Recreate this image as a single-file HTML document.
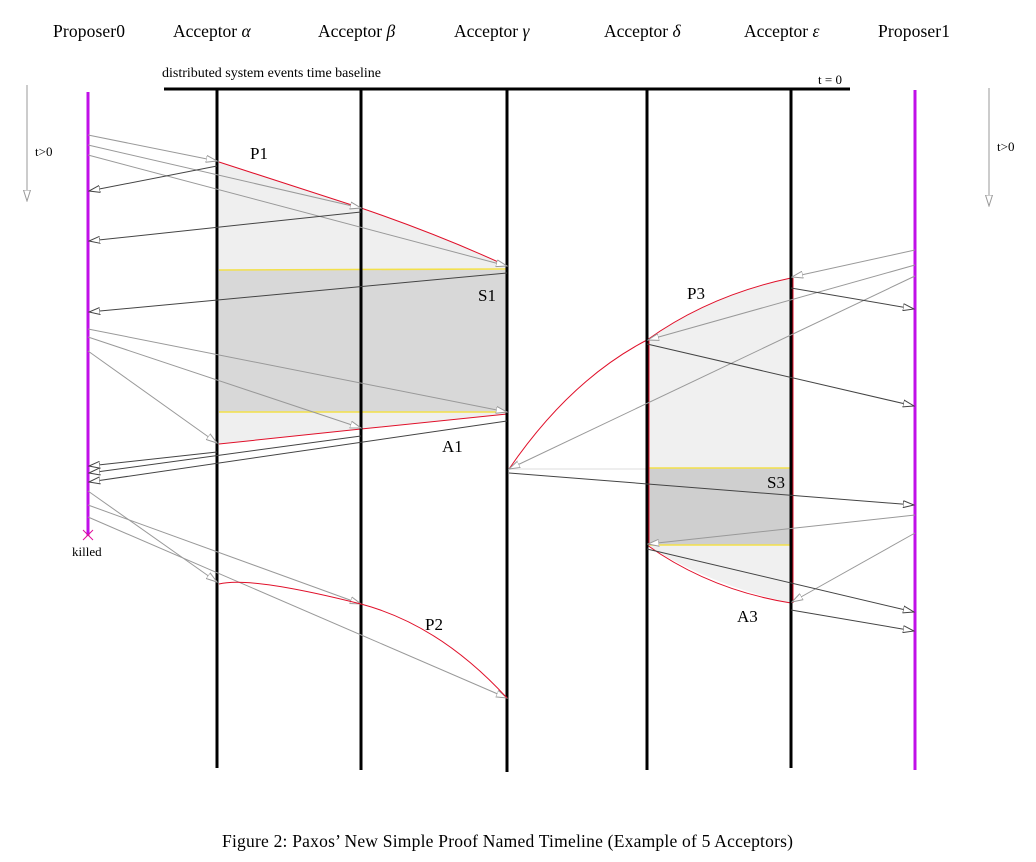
<!DOCTYPE html>
<html><head><meta charset="utf-8"><style>
html,body{margin:0;padding:0;background:#fff}
svg{display:block;font-family:"Liberation Serif",serif}
</style></head><body>
<svg width="1036" height="862" viewBox="0 0 1036 862" xmlns="http://www.w3.org/2000/svg">
<defs>
<marker id="ag" markerWidth="12" markerHeight="8" refX="11" refY="4" orient="auto" markerUnits="userSpaceOnUse"><path d="M0,0.5 L11,4 L0,7.5 Z" fill="#fff" stroke="#999" stroke-width="1"/></marker>
<marker id="ad" markerWidth="12" markerHeight="8" refX="11" refY="4" orient="auto" markerUnits="userSpaceOnUse"><path d="M0,0.5 L11,4 L0,7.5 Z" fill="#fff" stroke="#444" stroke-width="1"/></marker>
</defs>
<g font-size="17.5" fill="#000">
<text x="53" y="37" textLength="72">Proposer0</text>
<text x="173" y="37">Acceptor <tspan font-style="italic">α</tspan></text>
<text x="318" y="37">Acceptor <tspan font-style="italic">β</tspan></text>
<text x="454" y="37">Acceptor <tspan font-style="italic">γ</tspan></text>
<text x="604" y="37">Acceptor <tspan font-style="italic">δ</tspan></text>
<text x="744" y="37">Acceptor <tspan font-style="italic">ε</tspan></text>
<text x="878" y="37" textLength="72">Proposer1</text>
</g>
<text x="162" y="77" font-size="14" textLength="219">distributed system events time baseline</text>
<text x="818" y="84" font-size="13">t = 0</text>
<line x1="164" y1="89" x2="850" y2="89" stroke="#000" stroke-width="3"/>
<line x1="27" y1="85" x2="27" y2="201" stroke="#999" stroke-width="1" marker-end="url(#ag)"/>
<text x="35" y="156" font-size="13">t&gt;0</text>
<line x1="989" y1="88" x2="989" y2="206" stroke="#999" stroke-width="1" marker-end="url(#ag)"/>
<text x="997" y="151" font-size="13">t&gt;0</text>
<path d="M219,162 L361,208 Q440,235 507,266 L507,270 L219,270 Z" fill="#efefef"/>
<rect x="219" y="270" width="288" height="142" fill="#d8d8d8"/>
<path d="M219,412 L507,412 L507,414 L361,429 L219,444 Z" fill="#efefef"/>
<line x1="219" y1="270" x2="507" y2="269" stroke="#f3e04a" stroke-width="1.5"/>
<line x1="219" y1="412" x2="507" y2="412" stroke="#f3e04a" stroke-width="1.5"/>
<path d="M219,162 L361,208 Q440,235 507,266" fill="none" stroke="#e0102a" stroke-width="1"/>
<path d="M219,444 L361,429 L507,414" fill="none" stroke="#e0102a" stroke-width="1"/>
<path d="M647,340 Q710,295 791,278 L791,603 Q710,585 647,545 Z" fill="#f0f0f0"/>
<rect x="649" y="468" width="142" height="77" fill="#cfcfcf"/>
<line x1="649" y1="468" x2="791" y2="468" stroke="#f3e04a" stroke-width="1.5"/>
<line x1="649" y1="545" x2="791" y2="545" stroke="#f3e04a" stroke-width="1.5"/>
<line x1="509" y1="469" x2="647" y2="469" stroke="#eee" stroke-width="2"/>
<path d="M509,469 Q570,380 647,340 Q710,295 791,278" fill="none" stroke="#e0102a" stroke-width="1"/>
<path d="M647,545 Q710,590 791,603" fill="none" stroke="#e0102a" stroke-width="1"/>
<line x1="649" y1="340" x2="649" y2="545" stroke="#e0102a" stroke-width="1"/>
<line x1="793" y1="278" x2="793" y2="603" stroke="#e0102a" stroke-width="1"/>
<line x1="88" y1="92" x2="88" y2="536" stroke="#c010e8" stroke-width="3"/>
<line x1="915" y1="90" x2="915" y2="770" stroke="#c010e8" stroke-width="3"/>
<line x1="217" y1="90" x2="217" y2="768" stroke="#000" stroke-width="3"/>
<line x1="361" y1="90" x2="361" y2="770" stroke="#000" stroke-width="3"/>
<line x1="507" y1="90" x2="507" y2="772" stroke="#000" stroke-width="3"/>
<line x1="647" y1="90" x2="647" y2="770" stroke="#000" stroke-width="3"/>
<line x1="791" y1="90" x2="791" y2="768" stroke="#000" stroke-width="3"/>
<path d="M83,530 L93,540 M93,530 L83,540" fill="none" stroke="#e0109a" stroke-width="1"/>
<text x="72" y="556" font-size="13">killed</text>
<g stroke-width="1" fill="none">
<line x1="88" y1="135" x2="217" y2="161" stroke="#999" marker-end="url(#ag)"/>
<line x1="88" y1="145" x2="361" y2="208" stroke="#999" marker-end="url(#ag)"/>
<line x1="88" y1="155" x2="507" y2="266" stroke="#999" marker-end="url(#ag)"/>
<line x1="217" y1="166" x2="89" y2="191" stroke="#444" marker-end="url(#ad)"/>
<line x1="361" y1="212" x2="89" y2="241" stroke="#444" marker-end="url(#ad)"/>
<line x1="507" y1="273" x2="89" y2="312" stroke="#444" marker-end="url(#ad)"/>
<line x1="88" y1="329" x2="507" y2="412" stroke="#999" marker-end="url(#ag)"/>
<line x1="88" y1="337" x2="361" y2="428" stroke="#999" marker-end="url(#ag)"/>
<line x1="88" y1="351" x2="217" y2="443" stroke="#999" marker-end="url(#ag)"/>
<line x1="217" y1="452" x2="89" y2="466" stroke="#444" marker-end="url(#ad)"/>
<line x1="361" y1="436" x2="89" y2="473" stroke="#444" marker-end="url(#ad)"/>
<line x1="507" y1="421" x2="89" y2="482" stroke="#444" marker-end="url(#ad)"/>
<line x1="88" y1="491" x2="217" y2="582" stroke="#999" marker-end="url(#ag)"/>
<line x1="88" y1="505" x2="361" y2="604" stroke="#999" marker-end="url(#ag)"/>
<line x1="88" y1="517" x2="507" y2="698" stroke="#999" marker-end="url(#ag)"/>
<path d="M219,584 Q250,576 361,604 Q440,625 507,698" stroke="#e0102a"/>
<line x1="915" y1="250" x2="792" y2="277" stroke="#999" marker-end="url(#ag)"/>
<line x1="915" y1="265" x2="648" y2="340" stroke="#999" marker-end="url(#ag)"/>
<line x1="915" y1="276" x2="509" y2="469" stroke="#999" marker-end="url(#ag)"/>
<line x1="791" y1="288" x2="914" y2="309" stroke="#444" marker-end="url(#ad)"/>
<line x1="647" y1="344" x2="914" y2="406" stroke="#444" marker-end="url(#ad)"/>
<line x1="509" y1="473" x2="914" y2="505" stroke="#444" marker-end="url(#ad)"/>
<line x1="915" y1="515" x2="648" y2="544" stroke="#999" marker-end="url(#ag)"/>
<line x1="915" y1="533" x2="792" y2="602" stroke="#999" marker-end="url(#ag)"/>
<line x1="647" y1="549" x2="914" y2="612" stroke="#444" marker-end="url(#ad)"/>
<line x1="791" y1="610" x2="914" y2="631" stroke="#444" marker-end="url(#ad)"/>
</g>
<g font-size="17">
<text x="250" y="159">P1</text>
<text x="478" y="301">S1</text>
<text x="442" y="452">A1</text>
<text x="425" y="630">P2</text>
<text x="687" y="299">P3</text>
<text x="767" y="488">S3</text>
<text x="737" y="622">A3</text>
<text x="222" y="847" font-size="17.5" textLength="571">Figure 2: Paxos’ New Simple Proof Named Timeline (Example of 5 Acceptors)</text>
</g>
</svg>
</body></html>
